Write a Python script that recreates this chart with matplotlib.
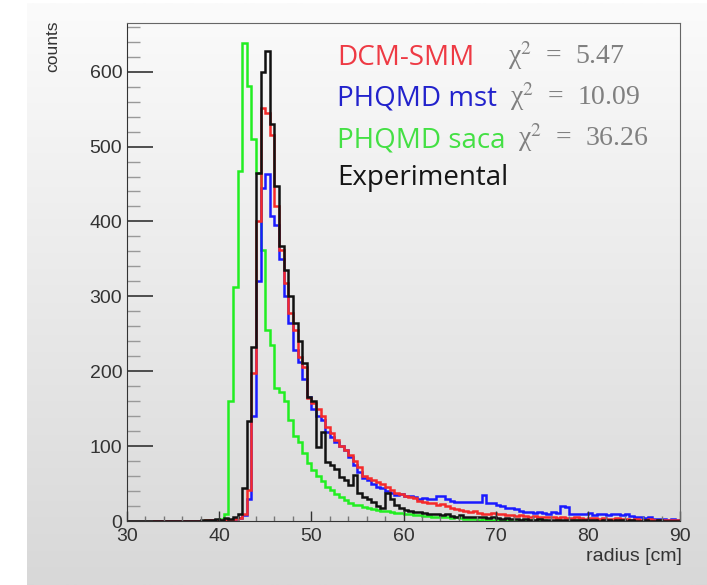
import numpy as np
import matplotlib
matplotlib.use('Agg')
import matplotlib.pyplot as plt
from matplotlib.colors import LinearSegmentedColormap
from matplotlib.ticker import MultipleLocator

# radius histograms, 0.5 cm bins from 30 to 90 cm
edges = np.arange(30, 90.5, 0.5)

experimental = [
    0, 0, 0, 0, 0, 0, 0, 0, 0, 0,
    0, 0, 0, 0, 0, 0, 1, 2, 1, 3,
    2, 4, 3, 5, 10, 44, 133, 233, 465, 600,
    628, 530, 447, 367, 335, 300, 265, 240, 211, 166,
    160, 99, 119, 79, 75, 70, 59, 55, 48, 61,
    37, 32, 30, 25, 20, 18, 37, 30, 22, 18,
    15, 14, 12, 12, 11, 10, 9, 10, 8, 9,
    7, 6, 8, 6, 5, 6, 5, 5, 4, 5,
    4, 3, 4, 3, 3, 2, 3, 2, 2, 3,
    2, 1, 2, 2, 1, 2, 1, 1, 2, 1,
    1, 1, 0, 1, 1, 0, 1, 1, 0, 1,
    0, 0, 1, 0, 0, 1, 0, 0, 0, 0,
]

dcm_smm = [
    0, 0, 0, 0, 0, 0, 0, 0, 0, 0,
    0, 0, 0, 0, 0, 0, 0, 1, 1, 2,
    1, 2, 2, 3, 4, 10, 41, 198, 400, 552,
    545, 515, 420, 362, 318, 278, 255, 219, 206, 164,
    158, 150, 140, 126, 118, 108, 100, 95, 88, 80,
    72, 60, 57, 55, 52, 50, 45, 41, 38, 36,
    34, 32, 31, 27, 25, 24, 24, 22, 23, 20,
    18, 16, 15, 14, 12, 13, 11, 10, 10, 11,
    9, 9, 8, 8, 7, 8, 7, 6, 7, 6,
    5, 6, 5, 4, 5, 4, 4, 5, 4, 3,
    4, 4, 3, 4, 3, 3, 4, 3, 3, 2,
    3, 2, 2, 3, 2, 2, 1, 2, 2, 1,
]

phqmd_mst = [
    0, 0, 0, 0, 0, 0, 0, 0, 0, 0,
    0, 0, 0, 0, 0, 0, 0, 0, 1, 0,
    1, 1, 2, 3, 4, 8, 30, 140, 320, 445,
    463, 407, 395, 350, 300, 265, 229, 212, 190, 165,
    150, 140, 135, 119, 112, 106, 100, 95, 85, 75,
    65, 57, 55, 50, 46, 44, 40, 37, 35, 36,
    34, 33, 32, 30, 31, 29, 30, 33, 33, 30,
    27, 26, 26, 25, 26, 25, 26, 35, 24, 24,
    22, 20, 17, 17, 16, 13, 12, 12, 11, 12,
    11, 10, 12, 11, 20, 19, 10, 9, 10, 9,
    11, 8, 10, 9, 8, 10, 9, 8, 10, 7,
    5, 6, 4, 5, 3, 3, 3, 2, 3, 2,
]

phqmd_saca = [
    0, 0, 0, 0, 0, 0, 0, 0, 0, 0,
    0, 0, 0, 0, 0, 0, 0, 1, 1, 2,
    3, 10, 160, 313, 467, 638, 581, 510, 465, 362,
    255, 235, 178, 172, 160, 135, 113, 105, 91, 78,
    68, 60, 53, 46, 41, 36, 32, 28, 24, 22,
    21, 19, 18, 16, 15, 14, 13, 12, 11, 11,
    10, 9, 8, 8, 7, 7, 6, 6, 5, 5,
    4, 5, 4, 3, 3, 3, 2, 3, 2, 2,
    2, 1, 2, 1, 1, 1, 0, 1, 1, 0,
    1, 0, 0, 1, 0, 0, 0, 1, 0, 0,
    0, 0, 0, 0, 0, 0, 0, 0, 0, 0,
    0, 0, 0, 0, 0, 0, 0, 0, 0, 0,
]

model_names = ['DCM-SMM', 'PHQMD mst', 'PHQMD saca', 'Experimental']
chi2_values = ['5.47', '10.09', '36.26', None]
line_colors = ['#f52a2a', '#1a1aff', '#22ee22', '#111111']
text_colors = ['#ee3a44', '#2222cc', '#44e044', '#151515']

W, H = 707, 585
fig = plt.figure(figsize=(W / 100, H / 100), dpi=100, facecolor='white')

# soft grey gradient panel behind the frame
bg = fig.add_axes([27 / W, 0, 1 - 27 / W, 582 / H], zorder=0)
grad = LinearSegmentedColormap.from_list('panel', ['#d8d8d8', '#fbfbfb'])
bg.imshow(np.linspace(0, 1, 256).reshape(-1, 1), cmap=grad, aspect='auto',
          origin='lower', extent=[0, 1, 0, 1])
bg.axis('off')

ax = fig.add_axes([127 / W, (H - 521) / H, 553 / W, 498 / H], zorder=1)
ax.set_facecolor('none')

series = [dcm_smm, phqmd_mst, phqmd_saca, experimental]
for idx in [2, 1, 0, 3]:
    ax.stairs(series[idx], edges, color=line_colors[idx], lw=1.8)

ax.set_xlim(30, 90)
ax.set_ylim(0, 665)

ax.xaxis.set_major_locator(MultipleLocator(10))
ax.xaxis.set_minor_locator(MultipleLocator(2))
ax.yaxis.set_major_locator(MultipleLocator(100))
ax.yaxis.set_minor_locator(MultipleLocator(20))

ax.tick_params(axis='both', which='both', direction='in', colors='#333333',
               labelsize=14, labelfontfamily='Liberation Sans')
ax.tick_params(axis='x', which='major', length=7, width=1, pad=5)
ax.tick_params(axis='x', which='minor', length=3.5, width=1, color='#777777')
ax.tick_params(axis='y', which='major', length=19, width=1.2, pad=3.5)
ax.tick_params(axis='y', which='minor', length=9, width=1, color='#999999')

for side in ['left', 'bottom']:
    ax.spines[side].set_color('#333333')
for side in ['top', 'right']:
    ax.spines[side].set_color('#666666')

ax.text(-0.134, 1.006, 'counts', transform=ax.transAxes, rotation=90,
        ha='center', va='top', fontsize=12.5, family='Liberation Sans',
        color='#333333')
ax.text(1.004, -0.072, 'radius [cm]', transform=ax.transAxes,
        ha='right', va='center', fontsize=14, family='Liberation Sans',
        color='#333333')

# model labels with chi-square values
name_x = 0.380
row_y = [0.930, 0.849, 0.765, 0.689]
chi_x = [0.689, 0.6926, 0.707]
for k, name in enumerate(model_names):
    ax.text(name_x, row_y[k], name, transform=ax.transAxes, ha='left',
            va='center', fontsize=20, family='Open Sans', color=text_colors[k])
    if chi2_values[k] is not None:
        ax.text(chi_x[k], row_y[k] + 0.004,
                'χ$^{2}$  =  ' + chi2_values[k],
                transform=ax.transAxes, ha='left', va='center', fontsize=20,
                family='Liberation Serif', math_fontfamily='stix',
                color='#808080')

fig.savefig('out.png', dpi=100, facecolor='white')
